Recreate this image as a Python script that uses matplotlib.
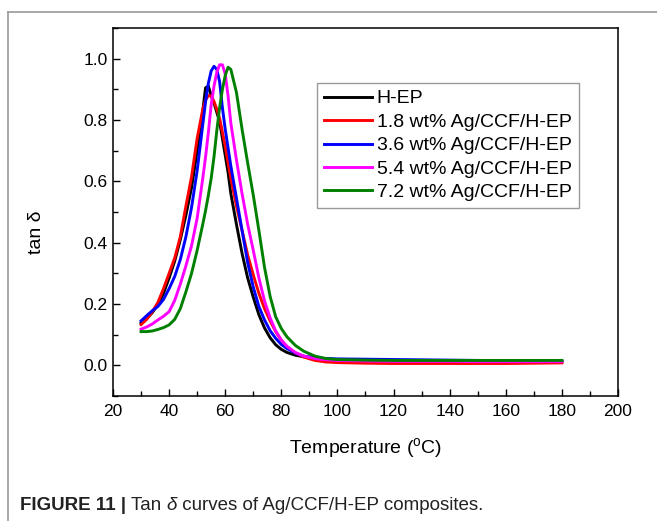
import matplotlib
matplotlib.use('Agg')
import matplotlib.pyplot as plt
from matplotlib.lines import Line2D
from matplotlib.ticker import MultipleLocator

plt.rcParams['font.family'] = ['Liberation Sans', 'DejaVu Sans']
plt.rcParams['mathtext.fontset'] = 'custom'
plt.rcParams['mathtext.rm'] = 'Liberation Sans'

# temperature grid (deg C)
temp = [30, 32, 34, 36, 38, 40, 42, 44, 46, 48, 50, 52, 53, 54, 55, 56, 57, 58, 59, 60,
        61, 62, 64, 66, 68, 70, 72, 74, 76, 78, 80, 82, 85, 88, 92, 96, 100,
        110, 120, 130, 140, 150, 160, 170, 180]

h_ep = [0.138, 0.152, 0.172, 0.198, 0.235, 0.285, 0.34, 0.41, 0.49, 0.58, 0.70, 0.83, 0.905, 0.91, 0.88, 0.855, 0.825, 0.795, 0.74, 0.685,
        0.63, 0.56, 0.46, 0.365, 0.285, 0.222, 0.165, 0.122, 0.09, 0.067, 0.052, 0.042, 0.033, 0.028, 0.024, 0.021, 0.019,
        0.017, 0.016, 0.015, 0.014, 0.013, 0.013, 0.012, 0.012]
wt18 = [0.133, 0.15, 0.175, 0.205, 0.25, 0.30, 0.35, 0.42, 0.52, 0.615, 0.74, 0.835, 0.865, 0.88, 0.878, 0.86, 0.835, 0.805, 0.76, 0.715,
        0.66, 0.61, 0.52, 0.44, 0.36, 0.295, 0.235, 0.185, 0.145, 0.11, 0.082, 0.06, 0.04, 0.027, 0.016, 0.011, 0.009,
        0.007, 0.006, 0.006, 0.006, 0.006, 0.006, 0.007, 0.008]
wt36 = [0.145, 0.162, 0.178, 0.192, 0.215, 0.25, 0.29, 0.345, 0.42, 0.515, 0.635, 0.785, 0.86, 0.92, 0.96, 0.975, 0.965, 0.925, 0.84, 0.77,
        0.71, 0.65, 0.545, 0.44, 0.335, 0.255, 0.192, 0.148, 0.113, 0.088, 0.068, 0.055, 0.04, 0.03, 0.025, 0.022, 0.021,
        0.02, 0.019, 0.018, 0.017, 0.016, 0.015, 0.015, 0.014]
wt54 = [0.118, 0.125, 0.135, 0.148, 0.16, 0.175, 0.212, 0.265, 0.325, 0.39, 0.48, 0.61, 0.68, 0.76, 0.85, 0.91, 0.955, 0.98, 0.98, 0.95,
        0.88, 0.79, 0.67, 0.56, 0.46, 0.375, 0.285, 0.21, 0.155, 0.112, 0.082, 0.062, 0.042, 0.03, 0.022, 0.018, 0.016,
        0.014, 0.013, 0.013, 0.013, 0.012, 0.012, 0.012, 0.012]
wt72 = [0.11, 0.11, 0.112, 0.117, 0.123, 0.132, 0.15, 0.185, 0.24, 0.30, 0.375, 0.46, 0.505, 0.555, 0.61, 0.68, 0.765, 0.84, 0.90, 0.945,
        0.972, 0.965, 0.89, 0.77, 0.66, 0.555, 0.44, 0.32, 0.225, 0.158, 0.12, 0.093, 0.065, 0.046, 0.03, 0.022, 0.019,
        0.017, 0.016, 0.016, 0.016, 0.016, 0.016, 0.016, 0.016]

series = [h_ep, wt18, wt36, wt54, wt72]
labels = ['H-EP', '1.8 wt% Ag/CCF/H-EP', '3.6 wt% Ag/CCF/H-EP',
          '5.4 wt% Ag/CCF/H-EP', '7.2 wt% Ag/CCF/H-EP']
colors = ['#000000', '#ff0000', '#0000ff', '#ff00ff', '#008000']

fig = plt.figure(figsize=(6.57, 5.21), dpi=100)
ax = fig.add_axes([0.172, 0.2399, 0.7686, 0.7064])

for y, lab, c in zip(series, labels, colors):
    ax.plot(temp, y, color=c, lw=2.1, label=lab, solid_joinstyle='round')

ax.set_xlim(20, 200)
ax.set_ylim(-0.1, 1.1)
ax.xaxis.set_major_locator(MultipleLocator(20))
ax.xaxis.set_minor_locator(MultipleLocator(10))
ax.yaxis.set_major_locator(MultipleLocator(0.2))
ax.yaxis.set_minor_locator(MultipleLocator(0.1))
ax.set_yticks([0.0, 0.2, 0.4, 0.6, 0.8, 1.0])
ax.set_yticklabels(['0.0', '0.2', '0.4', '0.6', '0.8', '1.0'])
ax.tick_params(which='both', direction='in', top=False, right=False, width=1, labelsize=12.5)
ax.tick_params(which='major', length=5)
ax.tick_params(which='minor', length=3.5)
ax.tick_params(axis='x', pad=6)
ax.tick_params(axis='y', pad=4)
for s in ax.spines.values():
    s.set_linewidth(1.1)

ax.set_xlabel('Temperature ($^\\mathregular{o}$C)', fontsize=14, labelpad=12)
ax.set_ylabel('tan δ', fontsize=14)
ax.yaxis.set_label_coords(-0.135, 0.446)

leg = ax.legend(loc='upper left', bbox_to_anchor=(0.404, 0.851), borderaxespad=0,
                fontsize=14, handlelength=2.45, handletextpad=0.25, labelspacing=0.3,
                fancybox=False, frameon=True, borderpad=0.36)
leg.get_frame().set_edgecolor('#808080')
leg.get_frame().set_linewidth(1.0)

# outer frame of the figure panel
fig.add_artist(Line2D([8 / 657, 1.0], [1 - 12 / 521, 1 - 12 / 521], color='#999999', lw=1.2))
fig.add_artist(Line2D([8 / 657, 8 / 657], [0.0, 1 - 12 / 521], color='#999999', lw=1.2))

# caption
cap_fam = ['Liberation Sans Narrow', 'Liberation Sans', 'DejaVu Sans']
fig.canvas.draw()
r = fig.canvas.get_renderer()
x0 = 20 / 657
yb = 1 - 510 / 521
parts = [('FIGURE 11 | ', 'bold', 'normal'), ('Tan ', 'normal', 'normal'),
         ('δ', 'normal', 'italic'), (' curves of Ag/CCF/H-EP composites.', 'normal', 'normal')]
x = x0
for txt, w, st in parts:
    t = fig.text(x, yb, txt, fontsize=13.5, family=cap_fam, weight=w, style=st,
                 color='#222222', ha='left', va='baseline')
    bb = t.get_window_extent(renderer=r)
    x += bb.width / fig.bbox.width

fig.savefig('out.png', dpi=100)
